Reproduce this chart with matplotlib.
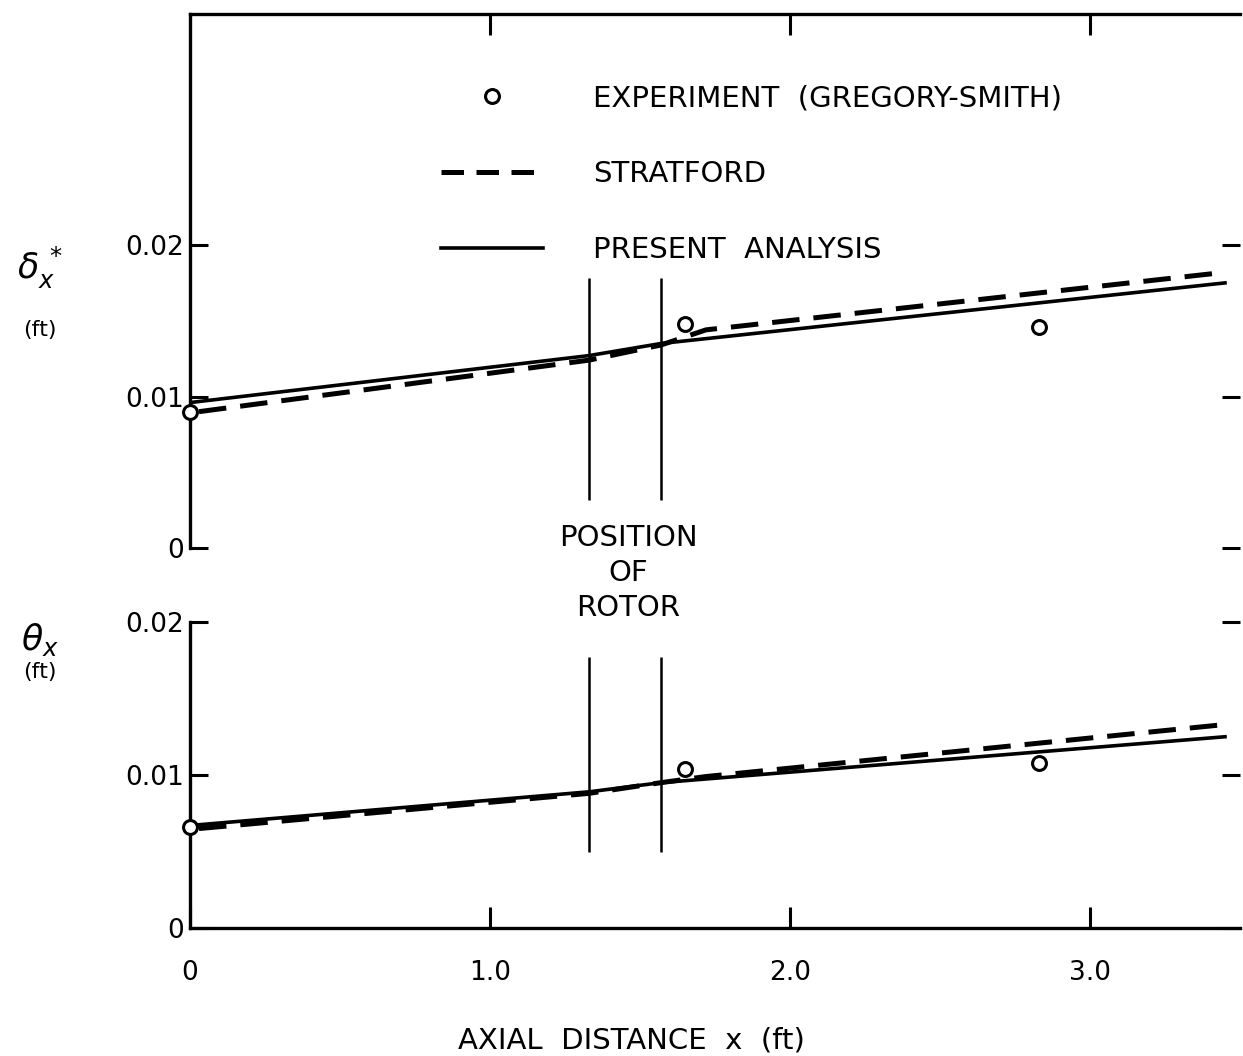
import matplotlib
matplotlib.use("Agg")
import matplotlib.pyplot as plt
from matplotlib.lines import Line2D

plt.rcParams['font.family'] = ['DejaVu Sans']

# data (x in ft)
x_exp = [0.0, 1.65, 2.83]
delta_exp = [0.0090, 0.0148, 0.0146]
theta_exp = [0.0066, 0.0104, 0.0108]

x_present = [0.0, 1.33, 1.57, 3.45]
delta_present = [0.0096, 0.0127, 0.0135, 0.0175]
theta_present = [0.0067, 0.0089, 0.0095, 0.0125]

x_strat = [0.03, 1.33, 1.57, 1.72, 3.45]
delta_strat = [0.0090, 0.0124, 0.0134, 0.0144, 0.0182]
theta_strat = [0.0065, 0.0088, 0.0095, 0.0099, 0.0133]

rotor_x = [1.33, 1.57]
x_ticks = [0, 1, 2, 3]
x_ticklabels = ['0', '1.0', '2.0', '3.0']
y_ticks = [0, 0.01, 0.02]
y_ticklabels = ['0', '0.01', '0.02']

W, H = 1243, 1056
fig = plt.figure(figsize=(W / 100, H / 100), dpi=100)

def fx(px):
    return px / W

def fy(py):
    return 1 - py / H

# upper panel: y=0 at px 548, top at 14; lower: 0 at 928, 0.02 at 622
ax1 = fig.add_axes([fx(190), fy(548), fx(1240) - fx(190), fy(14) - fy(548)])
ax2 = fig.add_axes([fx(190), fy(928), fx(1240) - fx(190), fy(622) - fy(928)])

ax1.set_xlim(0, 3.5)
ax1.set_ylim(0, 0.03525)
ax2.set_xlim(0, 3.5)
ax2.set_ylim(0, 0.02)

dash = (5.5, 2.8)
solid_lw = 2.6
dash_lw = 3.6

# upper
ax1.plot(x_strat, delta_strat, color='black', lw=dash_lw, dashes=dash)
ax1.plot(x_present, delta_present, color='black', lw=solid_lw)
ax1.plot(x_exp, delta_exp, 'o', mfc='white', mec='black', mew=2.2, ms=10, clip_on=False, zorder=5)
ax1.vlines(rotor_x, 0.0032, 0.0178, color='black', lw=1.8)

# lower
ax2.plot(x_strat, theta_strat, color='black', lw=dash_lw, dashes=dash)
ax2.plot(x_present, theta_present, color='black', lw=solid_lw)
ax2.plot(x_exp, theta_exp, 'o', mfc='white', mec='black', mew=2.2, ms=10, clip_on=False, zorder=5)
ax2.vlines(rotor_x, 0.0050, 0.0177, color='black', lw=1.8)

for ax in (ax1, ax2):
    ax.set_facecolor('none')
    for s in ax.spines.values():
        s.set_linewidth(2.4)
    ax.spines['right'].set_visible(False)
    ax.set_yticks(y_ticks)
    ax.set_yticklabels(y_ticklabels, fontsize=19)
    ax.tick_params(axis='y', which='both', direction='in', length=13, width=2.2,
                   left=True, right=True, labelleft=True, pad=4)

ax1.spines['bottom'].set_visible(False)
ax1.set_xticks(x_ticks[1:])
ax1.tick_params(axis='x', direction='in', length=15, width=2.2, top=True, bottom=False,
                labelbottom=False, labeltop=False)

ax2.spines['top'].set_visible(False)
ax2.set_xticks(x_ticks)
ax2.set_xticklabels(x_ticklabels, fontsize=19)
ax2.tick_params(axis='x', direction='in', length=15, width=2.2, top=False, bottom=True, pad=23)

# legend
handles = [
    Line2D([], [], ls='none', marker='o', mfc='white', mec='black', mew=2.2, ms=10),
    Line2D([], [], color='black', lw=dash_lw, dashes=(4.5, 2.5)),
    Line2D([], [], color='black', lw=solid_lw),
]
labels = ['EXPERIMENT  (GREGORY-SMITH)', 'STRATFORD', 'PRESENT  ANALYSIS']
fig.legend(handles, labels, loc='upper left', bbox_to_anchor=(fx(441), fy(84)),
           frameon=False, fontsize=21, handlelength=3.5, handletextpad=1.7,
           labelspacing=1.65, borderpad=0, borderaxespad=0, numpoints=1)

fig.text(fx(628), fy(573), 'POSITION\nOF\nROTOR', ha='center', va='center',
         fontsize=21, linespacing=1.3)

fig.text(fx(40), fy(268), r'$\delta_{x}^{\,*}$', ha='center', va='center', fontsize=25)
fig.text(fx(40), fy(330), '(ft)', ha='center', va='center', fontsize=16)
fig.text(fx(40), fy(640), r'$\theta_{x}$', ha='center', va='center', fontsize=25)
fig.text(fx(40), fy(672), '(ft)', ha='center', va='center', fontsize=16)

fig.text(fx(631), fy(1041), 'AXIAL  DISTANCE  x  (ft)', ha='center', va='center', fontsize=21)

fig.savefig('out.png', dpi=100)
